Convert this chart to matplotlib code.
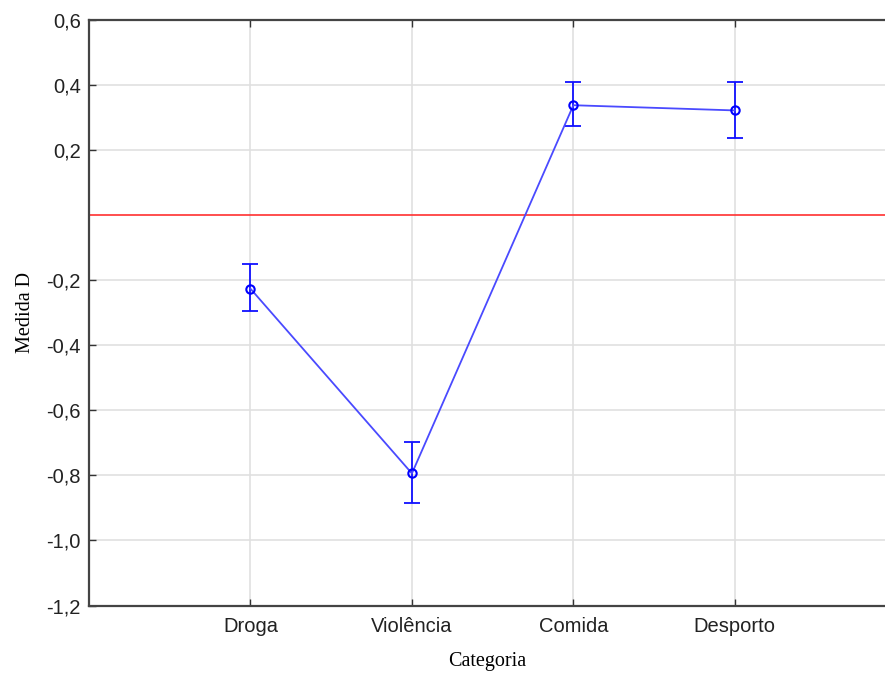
import numpy as np
from matplotlib import pyplot as plt

categorias = ['Droga', 'Violência', 'Comida', 'Desporto']
media = [-0.226, -0.794, 0.338, 0.322]
limite_sup = [-0.149, -0.696, 0.408, 0.408]
limite_inf = [-0.294, -0.884, 0.274, 0.237]
yticks = [-1.2, -1.0, -0.8, -0.6, -0.4, -0.2, 0.2, 0.4, 0.6]
ytick_labels = ['-1,2', '-1,0', '-0,8', '-0,6', '-0,4', '-0,2', '0,2', '0,4', '0,6']

x = np.arange(1, len(categorias) + 1)
media = np.array(media)
err = [media - np.array(limite_inf), np.array(limite_sup) - media]

fig = plt.figure(figsize=(8.85, 6.73), dpi=100)
ax = fig.add_axes([89 / 885, 1 - 605.5 / 673, 1 - 89 / 885, 585.5 / 673])

ax.grid(True, color='#e0e0e0', lw=1.2, zorder=0)
ax.axhline(0, color='#ff3030', lw=1.2, zorder=2)

ax.errorbar(x, media, yerr=err, fmt='none', ecolor='#1010ff', elinewidth=1.3,
            capsize=6, capthick=1.3, zorder=3)
ax.plot(x, media, color='#4a4aff', lw=1.3, marker='o', ms=6, mfc='none',
        mec='#0000ff', mew=1.5, zorder=4)

ax.set_xlim(0, 4.93)
ax.set_ylim(-1.2, 0.6)
ax.set_xticks(x)
ax.set_xticklabels(categorias, fontfamily='Liberation Sans', fontsize=14.5, color='#222222')
ax.set_yticks(yticks)
ax.set_yticklabels(ytick_labels, fontfamily='Liberation Sans', fontsize=14.5, color='#222222')
ax.tick_params(direction='in', length=5, width=1, color='#333333', pad=6)
ax.tick_params(axis='x', top=True, pad=8)

for s in ['left', 'bottom', 'top']:
    ax.spines[s].set_color('#444444')
    ax.spines[s].set_linewidth(1.6)
ax.spines['right'].set_visible(False)

ax.set_xlabel('Categoria', fontfamily='Liberation Serif', fontsize=14.5, labelpad=12)
ax.set_ylabel('Medida D', fontfamily='Liberation Serif', fontsize=14.5, labelpad=8)

fig.savefig('out.png', dpi=100)
